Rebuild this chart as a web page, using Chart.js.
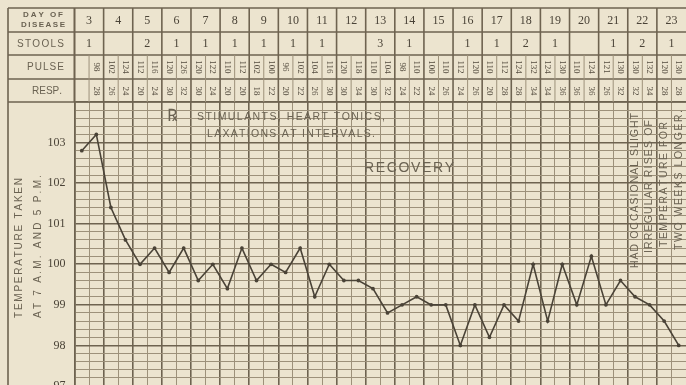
<!DOCTYPE html>
<html>
<head>
<meta charset="utf-8">
<script src="https://cdn.jsdelivr.net/npm/chart.js@4.4.0/dist/chart.umd.min.js"></script>
<style>
  html, body { margin: 0; padding: 0; background: #ece4cf; overflow: hidden; }
  #wrap { position: relative; width: 690px; height: 390px; }
</style>
</head>
<body>
<div id="wrap"><canvas id="chart" width="690" height="390"></canvas></div>
<script>
// day of disease, one column per day, two readings (7 A.M. / 5 P.M.) per day
var days = [3, 4, 5, 6, 7, 8, 9, 10, 11, 12, 13, 14, 15, 16, 17, 18, 19, 20, 21, 22, 23];
var stools = ["1", "", "2", "1", "1", "1", "1", "1", "1", "", "3", "1", "", "1", "1", "2", "1", "", "1", "2", "1"];

var pulse = [null, 98, 102, 124, 112, 116, 120, 126, 120, 122, 110, 112, 102, 100,
  96, 102, 104, 116, 120, 118, 110, 104, 98, 110, 100, 110, 112, 120,
  110, 112, 124, 132, 124, 130, 110, 124, 121, 130, 130, 132, 120, 130];
var resp = [null, 28, 26, 24, 20, 24, 30, 32, 30, 24, 20, 20, 18, 22,
  20, 22, 26, 30, 30, 34, 30, 32, 24, 22, 24, 26, 24, 26,
  20, 28, 28, 34, 34, 36, 36, 36, 26, 32, 32, 34, 28, 28];

var temperature = [102.8, 103.2, 101.4, 100.6, 100.0, 100.4, 99.8, 100.4, 99.6, 100.0, 99.4,
  100.4, 99.6, 100.0, 99.8, 100.4, 99.2, 100.0, 99.6, 99.6, 99.4, 98.8, 99.0, 99.2,
  99.0, 99.0, 98.0, 99.0, 98.2, 99.0, 98.6, 100.0, 98.6, 100.0, 99.0, 100.2, 99.0,
  99.6, 99.2, 99.0, 98.6, 98.0];

var tempMin = 97, tempMax = 104;

var readings = [];
days.forEach(function (d) { readings.push(d + " A.M.", d + " P.M."); });

var ink = "#4a4337";
var faint = "#6a6252";
var thinLine = "#9d917a";
var thickLine = "#6e6350";

function isWhole(v) { return Math.abs(v - Math.round(v)) < 1e-6; }

// draw text spread out so it fills a given length
function spread(c, text, x0, y, len) {
  var widths = text.split("").map(function (ch) { return c.measureText(ch).width; });
  var total = widths.reduce(function (a, b) { return a + b; }, 0);
  var gap = text.length > 1 ? (len - total) / (text.length - 1) : 0;
  var x = x0;
  c.textAlign = "left";
  text.split("").forEach(function (ch, i) {
    c.fillText(ch, x, y);
    x += widths[i] + gap;
  });
}

function upText(c, text, cx, yBottom, yTop) {
  c.save();
  c.translate(cx, yBottom);
  c.rotate(-Math.PI / 2);
  spread(c, text, 0, 0, yBottom - yTop);
  c.restore();
}

function line(c, x1, y1, x2, y2) {
  c.beginPath();
  c.moveTo(x1, y1);
  c.lineTo(x2, y2);
  c.stroke();
}

var sheet = {
  id: "sheet",
  afterDraw: function (chart) {
    var c = chart.ctx, xs = chart.scales.x, area = chart.chartArea;
    var slot = xs.getPixelForValue(1) - xs.getPixelForValue(0);
    var rows = [8, 32, 55, 79, area.top];
    var left = 8, right = chart.width;

    c.save();
    // header rules
    c.strokeStyle = thickLine;
    c.lineWidth = 1.6;
    rows.forEach(function (ry) { line(c, left, ry, right, ry); });
    line(c, left, rows[0], left, chart.height);
    line(c, area.left, rows[0], area.left, area.top);

    days.forEach(function (d, k) {
      var bx = xs.getPixelForValue(2 * k) - slot / 2;
      var mx = xs.getPixelForValue(2 * k + 1) - slot / 2;
      c.strokeStyle = thickLine;
      c.lineWidth = 1.6;
      line(c, bx, rows[0], bx, area.top);
      c.strokeStyle = thinLine;
      c.lineWidth = 1;
      line(c, mx, rows[2], mx, area.top);
    });

    // row titles
    c.fillStyle = faint;
    c.textBaseline = "middle";
    c.font = "bold 8px 'Liberation Sans'";
    spread(c, "DAY OF", 23, 15, 40);
    spread(c, "DISEASE", 21, 25, 44);
    c.font = "10px 'Liberation Sans'";
    spread(c, "STOOLS", 17, 44, 47);
    spread(c, "PULSE", 27, 67, 37);
    spread(c, "RESP.", 32, 91, 30);

    // day numbers and stools
    c.fillStyle = ink;
    c.textAlign = "center";
    c.font = "12px 'Liberation Serif'";
    days.forEach(function (d, k) {
      var cx = (xs.getPixelForValue(2 * k) + xs.getPixelForValue(2 * k + 1)) / 2;
      c.fillText(String(d), cx, 20.5);
      if (stools[k]) c.fillText(stools[k], cx, 44);
    });

    // pulse and respiration, printed sideways
    c.font = "9px 'Liberation Serif'";
    c.fillStyle = "#544c3f";
    readings.forEach(function (r, i) {
      var px = xs.getPixelForValue(i);
      [[pulse[i], 67], [resp[i], 91]].forEach(function (p) {
        if (p[0] == null) return;
        c.save();
        c.translate(px, p[1]);
        c.rotate(Math.PI / 2);
        c.textAlign = "center";
        c.fillText(String(p[0]), 0, 0);
        c.restore();
      });
    });

    // left side caption
    c.fillStyle = faint;
    c.font = "10px 'Liberation Sans'";
    upText(c, "TEMPERATURE TAKEN", 19, 318, 178);
    upText(c, "AT 7 A.M. AND 5 P.M.", 38, 318, 175);
    c.restore();
  },
  afterDatasetsDraw: function (chart) {
    var c = chart.ctx, xs = chart.scales.x;
    c.save();
    c.fillStyle = faint;
    c.textBaseline = "middle";
    c.textAlign = "center";
    c.font = "17px 'DejaVu Serif'";
    c.fillText("\u211E", 172, 117);
    c.font = "10.5px 'Liberation Sans'";
    spread(c, "STIMULANTS, HEART TONICS,", 197, 117, 188);
    spread(c, "LAXATIONS AT INTERVALS.", 207, 134, 168);
    c.font = "14px 'Liberation Sans'";
    spread(c, "RECOVERY", 364, 168, 90);
    c.font = "10.5px 'Liberation Sans'";
    upText(c, "HAD OCCASIONAL SLIGHT", xs.getPixelForValue(38), 268, 113);
    upText(c, "IRREGULAR RISES OF", xs.getPixelForValue(39), 253, 120);
    upText(c, "TEMPERATURE FOR", xs.getPixelForValue(40), 247, 122);
    upText(c, "TWO WEEKS LONGER.", xs.getPixelForValue(41), 250, 110);
    c.restore();
  }
};

new Chart(document.getElementById("chart"), {
  type: "line",
  data: {
    labels: readings,
    datasets: [{
      data: temperature,
      borderColor: ink,
      borderWidth: 1.6,
      pointRadius: 1.9,
      pointBackgroundColor: ink,
      pointBorderWidth: 0,
      tension: 0
    }]
  },
  options: {
    responsive: false,
    animation: false,
    devicePixelRatio: 1,
    layout: { padding: { left: 0, right: 2.5, top: 102, bottom: 2 } },
    plugins: { legend: { display: false }, tooltip: { enabled: false } },
    scales: {
      x: {
        offset: true,
        ticks: { display: false, autoSkip: false },
        border: { display: false },
        grid: {
          offset: true,
          drawTicks: false,
          color: function (ctx) { return ctx.index % 2 === 0 ? thickLine : thinLine; },
          lineWidth: function (ctx) { return ctx.index % 2 === 0 ? 1.6 : 1; }
        }
      },
      y: {
        min: tempMin,
        max: tempMax,
        afterFit: function (scale) {
          scale.width = 74.5;
          scale.paddingTop = 0;
          scale.paddingBottom = 0;
        },
        border: { color: thickLine, width: 1.6 },
        grid: {
          drawTicks: false,
          color: function (ctx) { return ctx.tick && isWhole(ctx.tick.value) ? thickLine : thinLine; },
          lineWidth: function (ctx) { return ctx.tick && isWhole(ctx.tick.value) ? 1.6 : 1; }
        },
        ticks: {
          stepSize: 0.2,
          autoSkip: false,
          padding: 9,
          color: ink,
          font: { family: "Liberation Serif", size: 12 },
          callback: function (v) { return isWhole(v) && v < tempMax ? String(Math.round(v)) : ""; }
        }
      }
    }
  },
  plugins: [sheet]
});
</script>
</body>
</html>
